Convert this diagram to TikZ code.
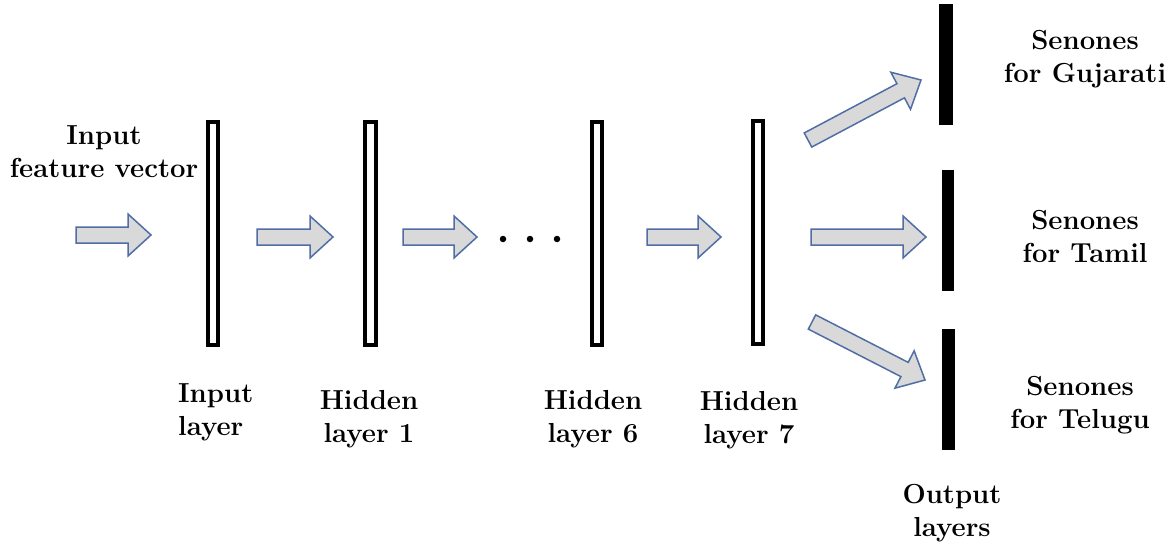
\documentclass[tikz,border=0pt]{standalone}
\usepackage{fontspec}
\usetikzlibrary{calc}
\definecolor{arrfill}{RGB}{217,217,217}
\definecolor{arredge}{RGB}{80,110,165}
\tikzset{
  hollowlayer/.style={draw=black, line width=4pt, fill=white, minimum width=10.5pt, minimum height=223pt, inner sep=0pt},
  solidlayer/.style={fill=black, inner sep=0pt},
  blockarr/.style={draw=arredge, fill=arrfill, line width=1.5pt, line join=miter},
  lbl/.style={font=\bfseries\fontsize{27.5}{33}\selectfont, inner sep=0pt, anchor=base},
  dotmark/.style={circle, fill=black, inner sep=0pt, minimum size=6.5pt}
}
\newcommand{\blockarrow}[3]{%
  \coordinate (#1h) at ($(#3)!23pt!(#2)$);
  \draw[blockarr] ($(#2)!8pt!90:(#3)$) -- ($(#1h)!8pt!90:(#3)$) -- ($(#1h)!21pt!90:(#3)$) -- (#3)
     -- ($(#1h)!21pt!-90:(#3)$) -- ($(#1h)!8pt!-90:(#3)$) -- ($(#2)!8pt!-90:(#3)$) -- cycle;
}
\begin{document}
\begin{tikzpicture}[x=1pt,y=-1pt]
\useasboundingbox[fill=white] (0,0) rectangle (1167,543);

% layers
\node[hollowlayer] (inl) at (213,233.5) {};
\node[hollowlayer] (h1) at (370.5,233.5) {};
\node[hollowlayer] (h6) at (597,233.5) {};
\node[hollowlayer] (h7) at (758,232.5) {};
\node[solidlayer, minimum width=14pt, minimum height=121pt] (og) at (946,64.5) {};
\node[solidlayer, minimum width=12.5pt, minimum height=121pt] (ot) at (948,230.5) {};
\node[solidlayer, minimum width=13pt, minimum height=121pt] (ol) at (948.5,389.5) {};

% dots
\node[dotmark] (d1) at (503,239) {};
\node[dotmark] (d2) at (530,239) {};
\node[dotmark] (d3) at (557,239) {};

% arrow end points
\coordinate (a0s) at (76,235);  \coordinate (a0e) at (151,235);
\coordinate (a1s) at (257,237); \coordinate (a1e) at (333,237);
\coordinate (a2s) at (403,237); \coordinate (a2e) at (477,237);
\coordinate (a3s) at (647,237); \coordinate (a3e) at (721,237);
\coordinate (ags) at (808,140); \coordinate (age) at (921,80);
\coordinate (ats) at (811,237); \coordinate (ate) at (926,237);
\coordinate (als) at (812,322); \coordinate (ale) at (925,380);
\blockarrow{a0}{a0s}{a0e}
\blockarrow{a1}{a1s}{a1e}
\blockarrow{a2}{a2s}{a2e}
\blockarrow{a3}{a3s}{a3e}
\blockarrow{ag}{ags}{age}
\blockarrow{at}{ats}{ate}
\blockarrow{al}{als}{ale}

% labels (anchor at baseline of the last line)
\node[lbl, align=center] (tin) at (104,177) {Input\\feature vector};
\node[lbl, align=left, anchor=base west] (tinl) at (178,435) {Input\\layer};
\node[lbl, align=center] (th1) at (369,442) {Hidden\\layer 1};
\node[lbl, align=center] (th6) at (593,442) {Hidden\\layer 6};
\node[lbl, align=center] (th7) at (749,443) {Hidden\\layer 7};
\node[lbl, align=center] (tg) at (1085,82) {Senones\\for Gujarati};
\node[lbl, align=center] (tt) at (1085,262) {Senones\\for Tamil};
\node[lbl, align=center] (tl) at (1080,428) {Senones\\for Telugu};
\node[lbl, align=center] (to) at (952,536) {Output\\layers};
\end{tikzpicture}
\end{document}
